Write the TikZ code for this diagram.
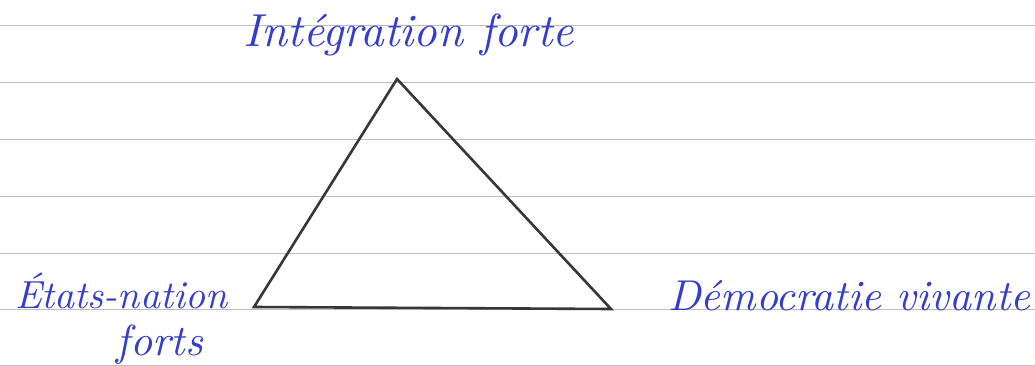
\documentclass[tikz,border=0pt]{standalone}
\usepackage{graphicx}
\definecolor{ink}{RGB}{52,62,200}
\definecolor{rule}{RGB}{190,190,190}
\definecolor{pencil}{RGB}{55,55,55}
\begin{document}
\begin{tikzpicture}[x=1pt,y=-1pt,
  ruleline/.style={draw=rule,line width=0.9pt},
  hand/.style={text=ink,inner sep=0pt,font=\itshape},
  tri/.style={draw=pencil,line width=2.6pt,line join=miter}]
\useasboundingbox (0,0) rectangle (1035,366);
\fill[white] (0,0) rectangle (1035,366);
\foreach \yy in {25,82,139,196,253,309,365}
  \draw[ruleline] (0,\yy) -- (1035,\yy);
\coordinate (T) at (397,79);
\coordinate (L) at (254,307);
\coordinate (R) at (611,309);
\draw[tri] (L) -- (T) -- (R) -- cycle;
\node[hand,anchor=base] (top) at (409,47) {\resizebox{330pt}{!}{Intégration forte}};
\node[hand,anchor=base west] (left1) at (15,308) {\resizebox{212pt}{!}{États-nation}};
\node[hand,anchor=base] (left2) at (160,355) {\resizebox{86pt}{!}{forts}};
\node[hand,anchor=base west] (right) at (668,310) {\resizebox{362pt}{!}{Démocratie vivante}};
\end{tikzpicture}
\end{document}
